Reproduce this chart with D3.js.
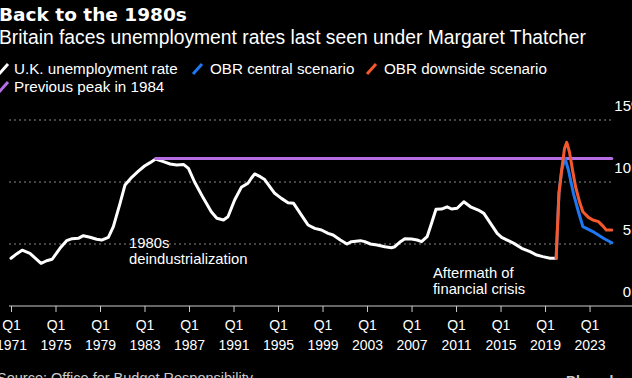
<!DOCTYPE html>
<html><head><meta charset="utf-8">
<script src="https://cdn.jsdelivr.net/npm/d3@7/dist/d3.min.js"></script>
<style>
html,body{margin:0;padding:0;background:#000;overflow:hidden;}
svg{display:block;font-family:"Liberation Sans",Arial,sans-serif;}
</style></head>
<body>
<svg id="chart" width="632" height="378"></svg>
<script>
// ---- data ----
const ukYears = [1971.0,1971.5,1972.0,1972.7,1973.2,1973.7,1974.2,1974.7,1975.4,1976.0,1976.5,1977.05,1977.5,1978.1,1978.7,1979.15,1979.75,1980.2,1980.8,1981.25,1981.85,1982.4,1983.0,1983.5,1984.0,1984.7,1985.3,1985.9,1986.5,1986.95,1987.5,1988.3,1989.0,1989.5,1990.1,1990.5,1991.1,1991.7,1992.3,1992.6,1992.9,1993.4,1993.8,1994.7,1995.3,1995.9,1996.4,1997.0,1997.3,1997.7,1998.3,1998.9,1999.5,1999.95,2000.6,2001.2,2001.6,2002.4,2002.8,2003.3,2003.9,2004.6,2005.2,2005.5,2006.0,2006.4,2007.0,2007.5,2007.9,2008.4,2008.8,2009.2,2009.7,2010.2,2010.6,2011.1,2011.7,2012.3,2013.0,2013.5,2014.1,2014.7,2015.1,2015.6,2016.2,2016.9,2017.65,2018.25,2018.8,2019.45,2020.0];
const ukRate = [3.85,4.2,4.5,4.25,3.85,3.44,3.65,3.77,4.65,5.27,5.43,5.46,5.67,5.54,5.38,5.32,5.54,6.4,8.28,9.76,10.38,10.83,11.29,11.56,11.85,11.64,11.45,11.37,11.42,11.1,10.0,8.68,7.6,7.07,6.94,7.2,8.55,9.57,9.9,10.3,10.65,10.43,10.2,9.09,8.68,8.33,8.28,7.47,7.07,6.53,6.26,6.13,5.86,5.73,5.32,5.0,5.19,5.27,5.19,5.0,4.92,4.78,4.7,4.78,5.19,5.43,5.4,5.32,5.19,5.59,6.67,7.8,7.82,8.0,7.82,7.88,8.41,8.0,7.74,7.47,6.67,5.86,5.54,5.32,5.05,4.65,4.38,4.11,3.98,3.85,3.85];

const centralYears = [2020.0,2020.25,2020.5,2020.8,2021.1,2021.55,2022.0,2022.4,2023.3,2024.25,2025.0];
const centralRate  = [3.85,9.1,11.0,11.9,10.97,9.09,7.6,6.4,6.0,5.46,5.1];

const downsideYears = [2020.0,2020.25,2020.5,2020.75,2020.95,2021.2,2021.5,2021.75,2022.1,2022.4,2022.9,2023.3,2023.8,2024.25,2024.5,2025.0];
const downsideRate  = [3.85,9.1,11.0,12.7,13.2,12.4,10.8,9.6,8.4,7.6,7.15,6.94,6.8,6.4,6.13,6.13];

const peakYears = [1984.0,2025.0];
const peakRate  = [11.9,11.9];

const xTickYears = [1971,1975,1979,1983,1987,1991,1995,1999,2003,2007,2011,2015,2019,2023];
const yTicks = [0,5,10,15];

const legendLabels = ["U.K. unemployment rate","OBR central scenario","OBR downside scenario","Previous peak in 1984"];
const legendColors = ["#ffffff","#1f78f2","#f5592b","#b56ee3"];

// ---- drawing ----
const svg = d3.select("#chart");
svg.append("rect").attr("width",632).attr("height",378).attr("fill","#000");

const x = d3.scaleLinear().domain([1971,2025]).range([11,611.8]);
const y = d3.scaleLinear().domain([0,15]).range([306,120]);

// title
svg.append("text").attr("x",-1).attr("y",21).attr("fill","#fff")
  .attr("font-family","'DejaVu Sans',sans-serif")
  .attr("font-size",18.5).attr("font-weight","bold").text("Back to the 1980s");
svg.append("text").attr("x",-1).attr("y",43.5).attr("fill","#fff")
  .attr("font-size",19.3).text("Britain faces unemployment rates last seen under Margaret Thatcher");

// legend
const legPos = [[-1,74],[193,74],[367,74],[-1,92]];
const textX = [14,210,384,14];
legendLabels.forEach((l,i)=>{
  const [lx,ly]=legPos[i];
  svg.append("line").attr("x1",lx).attr("y1",ly).attr("x2",lx+9).attr("y2",ly-10)
    .attr("stroke",legendColors[i]).attr("stroke-width",3);
  svg.append("text").attr("x",textX[i]).attr("y",ly).attr("fill","#fff")
    .attr("font-size",15.2).text(l);
});

// gridlines
const grid = svg.append("g");
grid.selectAll("line").data(yTicks.filter(d=>d>0)).join("line")
  .attr("x1",9).attr("x2",612).attr("y1",d=>y(d)).attr("y2",d=>y(d))
  .attr("stroke","#888").attr("stroke-width",1).attr("stroke-dasharray","2,3");

// y labels
const yl = svg.append("g");
yTicks.forEach(t=>{
  yl.append("text").attr("x",631).attr("y",y(t)-9).attr("text-anchor","end")
    .attr("fill","#fff").attr("font-size",15).text(t);
  if(t===15) yl.append("text").attr("x",631).attr("y",y(t)-9).attr("fill","#fff").attr("font-size",15).text("%");
});

// x axis
const xAxis = d3.axisBottom(x).tickValues(xTickYears).tickSize(6).tickFormat("");
const gx = svg.append("g").attr("transform",`translate(0,${y(0)})`).call(xAxis);
gx.select(".domain").remove();
gx.selectAll(".tick line").attr("stroke","#ccc");
svg.append("line").attr("x1",9).attr("x2",632).attr("y1",y(0)).attr("y2",y(0))
  .attr("stroke","#ccc").attr("stroke-width",1.2);
gx.selectAll(".tick").each(function(d){
  const g=d3.select(this);
  g.append("text").attr("y",24).attr("text-anchor","middle").attr("fill","#fff")
    .attr("font-size",14).text("Q1");
  g.append("text").attr("y",44).attr("text-anchor","middle").attr("fill","#fff")
    .attr("font-size",14).text(d);
});

// lines
const line = d3.line().x(d=>x(d[0])).y(d=>y(d[1])).curve(d3.curveLinear);
const zip=(a,b)=>a.map((v,i)=>[v,b[i]]);
function draw(data,color){
  svg.append("path").datum(data).attr("d",line).attr("fill","none")
    .attr("stroke",color).attr("stroke-width",3).attr("stroke-linejoin","round").attr("stroke-linecap","round");
}
draw(zip(ukYears,ukRate),legendColors[0]);
draw(zip(peakYears,peakRate),legendColors[3]);
draw(zip(centralYears,centralRate),legendColors[1]);
draw(zip(downsideYears,downsideRate),legendColors[2]);

// annotations
const ann = [[129,248,"1980s"],[129,264,"deindustrialization"],[433,278,"Aftermath of"],[433,294,"financial crisis"]];
ann.forEach(a=>svg.append("text").attr("x",a[0]).attr("y",a[1]).attr("fill","#fff").attr("font-size",14.8).text(a[2]));

// source
svg.append("text").attr("x",-3).attr("y",383).attr("fill","#ccc").attr("font-size",14.5)
  .text("Source: Office for Budget Responsibility");
svg.append("text").attr("x",566).attr("y",386).attr("fill","#ccc").attr("font-size",14).attr("font-weight","bold")
  .text("Bloomberg");
</script>
</body></html>
